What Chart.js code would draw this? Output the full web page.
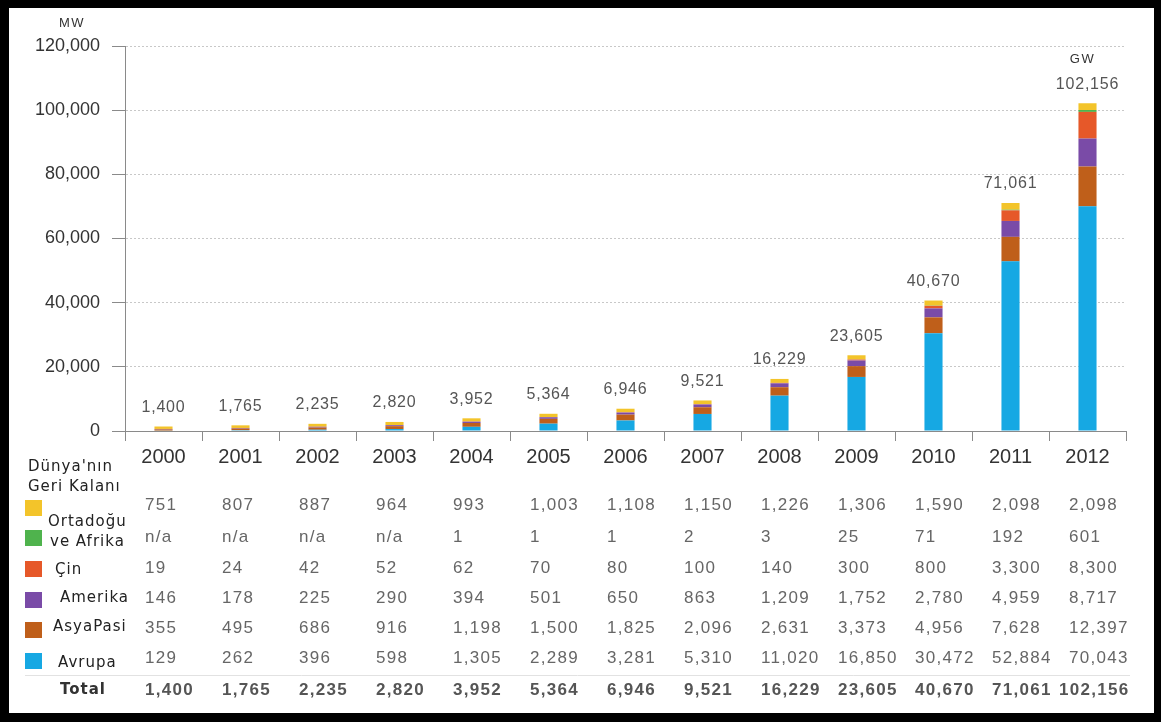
<!DOCTYPE html>
<html lang="tr">
<head>
<meta charset="utf-8">
<title>Kurulu Güneş Enerjisi Kapasitesi 2000-2012</title>
<script src="https://cdn.jsdelivr.net/npm/chart.js@4.4.1/dist/chart.umd.min.js"></script>
<style>
  html, body { margin: 0; padding: 0; }
  body { width: 1161px; height: 722px; background: #000; position: relative; overflow: hidden; }
  #frame { position: absolute; left: 9px; top: 8px; width: 1145px; height: 705px; background: #fff; }
  #chart { display: block; }
</style>
</head>
<body>
<div id="frame"><canvas id="chart" width="1145" height="705"></canvas></div>
<script>
// Years on the category axis
const years = ['2000','2001','2002','2003','2004','2005','2006','2007','2008','2009','2010','2011','2012'];

// Installed capacity per region, MW (null = n/a)
const avrupa   = [129, 262, 396, 598, 1305, 2289, 3281, 5310, 11020, 16850, 30472, 52884, 70043];
const asyaPasi = [355, 495, 686, 916, 1198, 1500, 1825, 2096, 2631, 3373, 4956, 7628, 12397];
const amerika  = [146, 178, 225, 290, 394, 501, 650, 863, 1209, 1752, 2780, 4959, 8717];
const cin      = [19, 24, 42, 52, 62, 70, 80, 100, 140, 300, 800, 3300, 8300];
const ortadogu = [null, null, null, null, 1, 1, 1, 2, 3, 25, 71, 192, 601];
const dunya    = [751, 807, 887, 964, 993, 1003, 1108, 1150, 1226, 1306, 1590, 2098, 2098];

// Yearly totals as printed
const totals   = [1400, 1765, 2235, 2820, 3952, 5364, 6946, 9521, 16229, 23605, 40670, 71061, 102156];

// Y axis tick values
const yTicks = [0, 20000, 40000, 60000, 80000, 100000, 120000];

const fmt = v => (v === null ? 'n/a' : v.toLocaleString('en-US'));

const series = [
  { label: 'Avrupa',   data: avrupa,   color: '#16a8e3' },
  { label: 'AsyaPasi', data: asyaPasi, color: '#bf5f1a' },
  { label: 'Amerika',  data: amerika,  color: '#7a4ba7' },
  { label: 'Çin',      data: cin,      color: '#e65829' },
  { label: 'Ortadoğu ve Afrika', data: ortadogu, color: '#4fb34d' },
  { label: "Dünya'nın Geri Kalanı", data: dunya, color: '#f3c42a' }
];

// Rows of the data table under the chart, top to bottom
const tableRows = [
  { lines: ["Dünya'nın", 'Geri Kalanı'], data: dunya,    color: '#f3c42a', textY: [459, 479], boxY: 492, labelX: [19, 19], valY: 497 },
  { lines: ['Ortadoğu', 've Afrika'],    data: ortadogu, color: '#4fb34d', textY: [514, 534], boxY: 522, labelX: [39, 41], valY: 529 },
  { lines: ['Çin'],      data: cin,      color: '#e65829', textY: [562], boxY: 553, labelX: [46], valY: 560 },
  { lines: ['Amerika'],  data: amerika,  color: '#7a4ba7', textY: [590], boxY: 584, labelX: [51], valY: 590 },
  { lines: ['AsyaPasi'], data: asyaPasi, color: '#bf5f1a', textY: [619], boxY: 614, labelX: [44], valY: 620 },
  { lines: ['Avrupa'],   data: avrupa,   color: '#16a8e3', textY: [655], boxY: 645, labelX: [49], valY: 650 }
];

const CHART_TOP = 38, CHART_BOTTOM = 423, Y_AXIS_W = 116, X_AXIS_H = 40;

// Totals above each bar plus the "GW" note on the last one
const totalLabels = {
  id: 'totalLabels',
  afterDatasetsDraw(chart) {
    const { ctx, scales: { x, y } } = chart;
    ctx.save();
    ctx.font = '16px "Liberation Sans", Arial, sans-serif';
    ctx.letterSpacing = '0.8px';
    ctx.fillStyle = '#555';
    ctx.textAlign = 'center';
    ctx.textBaseline = 'middle';
    totals.forEach((t, i) => {
      const px = x.getPixelForValue(i);
      const py = y.getPixelForValue(t) - 19;
      ctx.fillText(fmt(t), px, py);
      if (i === totals.length - 1) {
        ctx.font = '13px "Liberation Sans", Arial, sans-serif';
        ctx.letterSpacing = '1.5px';
        ctx.fillStyle = '#333';
        ctx.fillText('GW', px - 5, py - 25);
      }
    });
    ctx.font = '13px "Liberation Sans", Arial, sans-serif';
    ctx.letterSpacing = '1.5px';
    ctx.fillStyle = '#333';
    ctx.fillText('MW', 63, 15);
    ctx.restore();
  }
};

// Data table with colour keys, aligned to the category columns
const dataTable = {
  id: 'dataTable',
  afterDraw(chart) {
    const { ctx, scales: { x } } = chart;
    const catW = (x.right - x.left) / years.length;
    const colX = i => x.left + i * catW + 20;
    ctx.save();
    ctx.textBaseline = 'middle';
    ctx.textAlign = 'left';
    tableRows.forEach(row => {
      ctx.fillStyle = row.color;
      ctx.fillRect(16, row.boxY, 17, 16);
      ctx.font = '15px "DejaVu Sans", Verdana, sans-serif';
      ctx.letterSpacing = '1px';
      ctx.fillStyle = '#222';
      row.lines.forEach((ln, k) => ctx.fillText(ln, row.labelX[k], row.textY[k]));
      ctx.font = '17px "Liberation Sans", Arial, sans-serif';
      ctx.letterSpacing = '1.3px';
      ctx.fillStyle = '#666';
      row.data.forEach((v, i) => ctx.fillText(fmt(v), colX(i), row.valY));
    });
    // separator above the total row
    ctx.strokeStyle = '#e2e2e2';
    ctx.lineWidth = 1;
    ctx.beginPath();
    ctx.moveTo(16, 667.5);
    ctx.lineTo(1121, 667.5);
    ctx.stroke();
    ctx.font = 'bold 15px "DejaVu Sans", Verdana, sans-serif';
    ctx.letterSpacing = '1px';
    ctx.fillStyle = '#333';
    ctx.fillText('Total', 51, 682);
    ctx.font = 'bold 17px "Liberation Sans", Arial, sans-serif';
    ctx.letterSpacing = '1.3px';
    ctx.fillStyle = '#555';
    totals.forEach((t, i) => ctx.fillText(fmt(t), colX(i) - (t >= 100000 ? 10 : 0), 682));
    ctx.restore();
  }
};

new Chart(document.getElementById('chart'), {
  type: 'bar',
  data: {
    labels: years,
    datasets: series.map(s => ({
      label: s.label,
      data: s.data,
      backgroundColor: s.color,
      borderWidth: 0,
      categoryPercentage: 1,
      barPercentage: 0.235
    }))
  },
  options: {
    responsive: false,
    animation: false,
    events: [],
    layout: { padding: { left: 0, top: CHART_TOP, right: 28, bottom: 705 - CHART_BOTTOM - X_AXIS_H } },
    plugins: { legend: { display: false }, tooltip: { enabled: false }, title: { display: false } },
    scales: {
      x: {
        stacked: true,
        afterFit: s => { s.height = X_AXIS_H; },
        grid: { drawOnChartArea: false, offset: true, tickLength: 10, color: '#8a8a8a', lineWidth: 1 },
        border: { display: true, color: '#8a8a8a', width: 1 },
        ticks: { color: '#333', font: { family: '"Liberation Sans", Arial, sans-serif', size: 20 }, padding: 4, maxRotation: 0 }
      },
      y: {
        stacked: true,
        min: 0,
        max: 120000,
        afterFit: s => { s.width = Y_AXIS_W; },
        afterBuildTicks: s => { s.ticks = yTicks.map(v => ({ value: v })); },
        grid: {
          color: c => (c.tick && c.tick.value === 0 ? 'rgba(0,0,0,0)' : '#c8c8c8'),
          tickColor: '#8a8a8a',
          tickLength: 13,
          lineWidth: 1
        },
        border: { display: true, color: '#8a8a8a', width: 1, dash: [2, 2] },
        ticks: {
          color: '#333',
          padding: 12,
          font: { family: '"Liberation Sans", Arial, sans-serif', size: 18 },
          callback: v => fmt(v)
        }
      }
    }
  },
  plugins: [totalLabels, dataTable]
});
</script>
</body>
</html>
